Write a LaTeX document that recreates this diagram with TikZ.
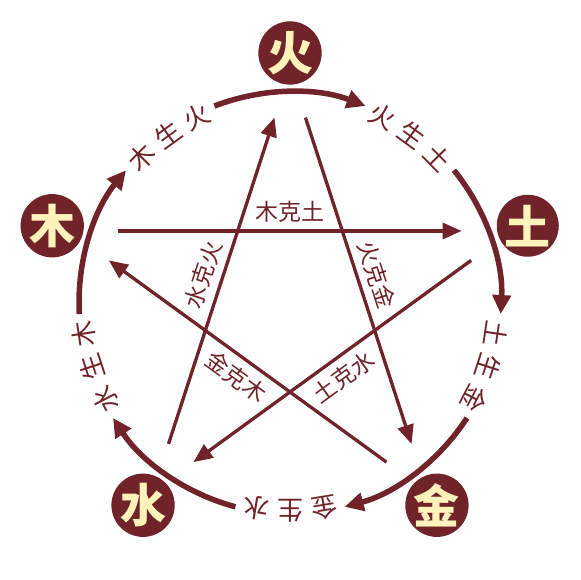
\documentclass[tikz,border=0pt]{standalone}
\usepackage{fontspec}
\usepackage{tikz}
\usetikzlibrary{calc, positioning, arrows.meta}
\newfontfamily\cjk{Noto Sans CJK SC}
\definecolor{wxred}{HTML}{702328}
\definecolor{wxcream}{HTML}{FFF2BA}

\begin{document}
\begin{tikzpicture}[x=1pt, y=1pt, font=\cjk,
	elem/.style={circle, fill=wxred, text=wxcream, minimum size=60pt, inner sep=0pt, font=\cjk\bfseries\fontsize{46}{46}\selectfont},
	sheng/.style={wxred, line width=5.5pt, -{Triangle[length=19pt, width=18pt]}},
	ke/.style={wxred, line width=3.3pt, shorten <=50pt, shorten >=50pt, -{Triangle[length=19pt, width=16pt]}},
	kelabel/.style={midway, sloped, text=wxred, inner sep=2pt, font=\cjk\fontsize{23}{23}\selectfont},
	shenglabel/.style={text=wxred, font=\cjk\fontsize{26}{26}\selectfont}]

	\useasboundingbox (-290,-277) rectangle (290,303);

		% nodes - the five elements %
		\node[elem] (huo) at (90:250) {火};
		\node[elem] (tu) at (18:250) {土};
		\node[elem] (jin) at (-54:250) {金};
		\node[elem] (shui) at (-126:250) {水};
		\node[elem] (mu) at (162:250) {木};

		% corners of the star %
		\foreach \n/\a in {huo/90, tu/18, jin/-54, shui/-126, mu/162}
			\coordinate (\n-k) at (\a:233);

		% generating cycle %
		\foreach \n/\a in {huo/90, tu/18, jin/-54, shui/-126, mu/162} {
			\coordinate (\n-s) at (\a+21:211);
			\draw[sheng] (\n-s) arc[start angle=\a+21, end angle=\a-21, radius=211];
		}
		\foreach \a/\p/\q in {162/木/火, 90/火/土, 18/土/金, -54/金/水, -126/水/木}
			\foreach \c/\d in {\p/9.5, 生/0, \q/-9.5}
				\node[shenglabel, rotate=\a-126+\d] at (\a-36+\d:208) {\c};

		% overcoming cycle %
		\draw[ke] (mu-k) -- node[kelabel, above=5pt] {木克土} (tu-k);
		\draw[ke] (tu-k) -- node[kelabel, below=5pt] {土克水} (shui-k);
		\draw[ke] (shui-k) -- node[kelabel, above=5pt] {水克火} (huo-k);
		\draw[ke] (huo-k) -- node[kelabel, above=5pt] {火克金} (jin-k);
		\draw[ke] (jin-k) -- node[kelabel, below=5pt] {金克木} (mu-k);

\end{tikzpicture}
\end{document}
